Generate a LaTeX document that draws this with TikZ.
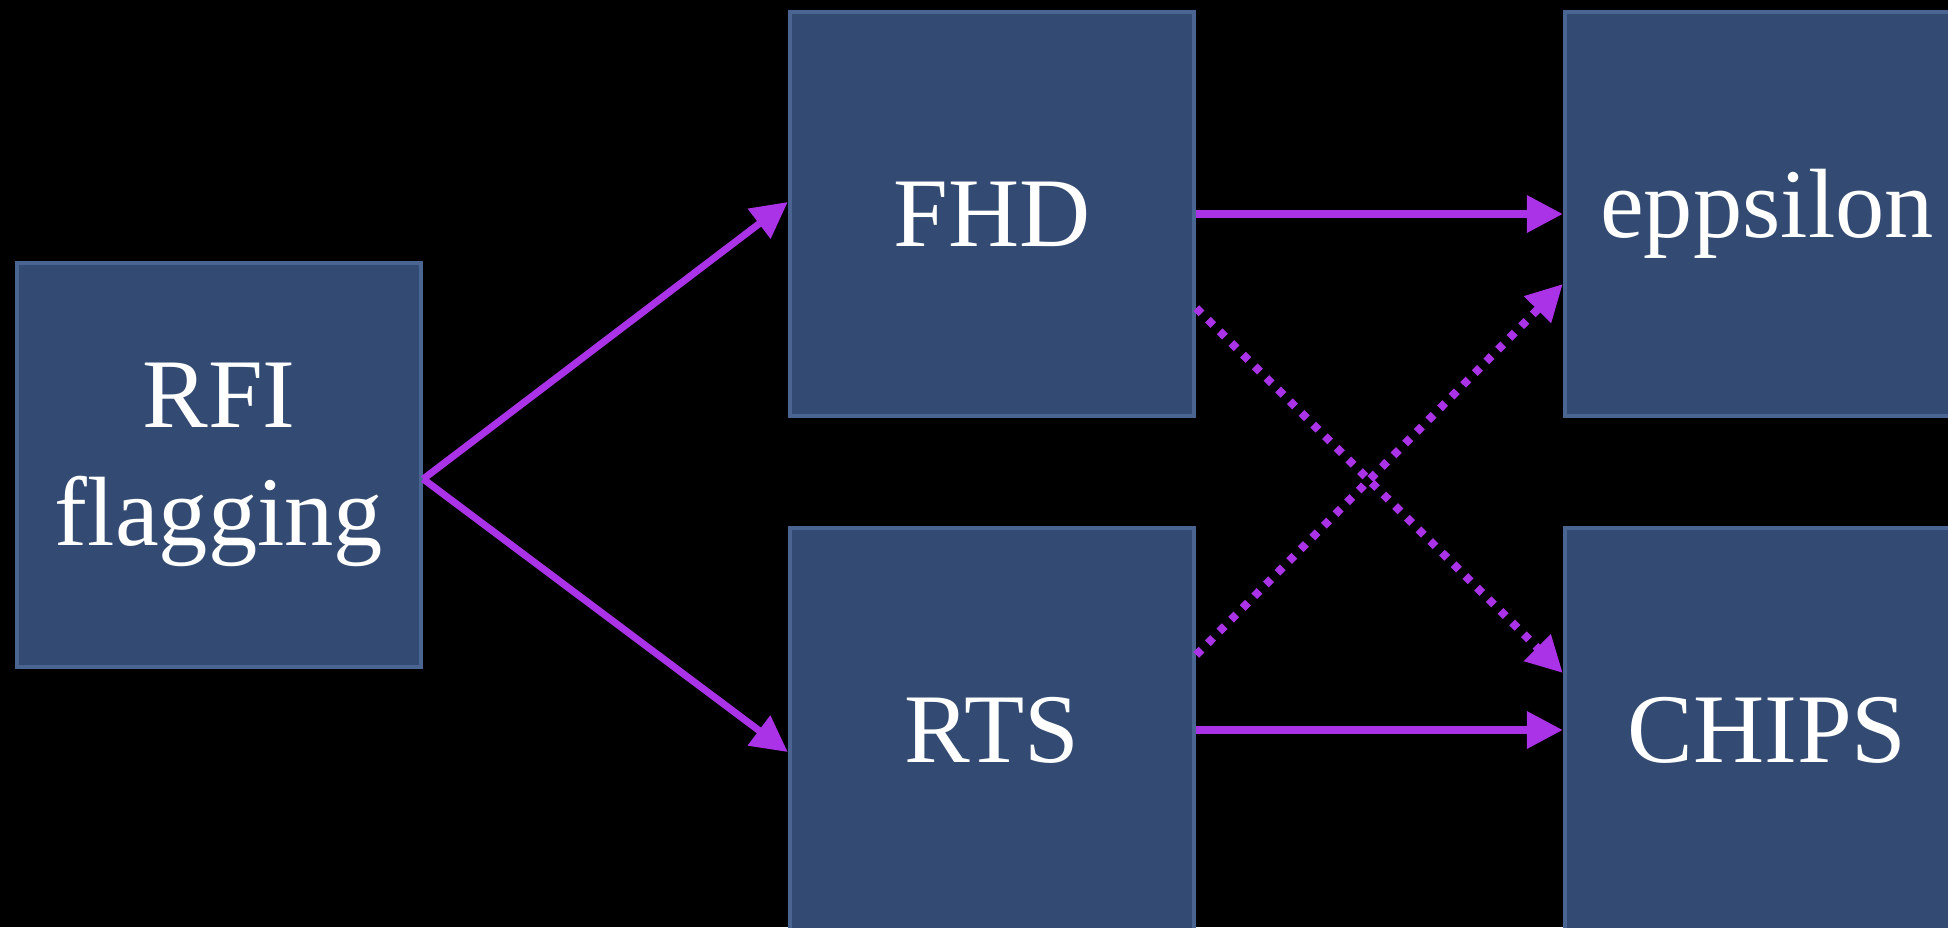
\documentclass[tikz,border=0pt]{standalone}
\usepackage{fontspec}
\setmainfont{Liberation Serif}
\usetikzlibrary{arrows.meta}

\definecolor{boxblue}{HTML}{334B72}
\definecolor{boxedge}{HTML}{4B6592}
\definecolor{flow}{HTML}{AA33E8}

\begin{document}
\begin{tikzpicture}[x=0.01cm,y=-0.01cm,
    stage/.style={rectangle,fill=boxblue,draw=boxedge,line width=1.2pt,
        minimum width=4.04cm,minimum height=4.04cm,inner sep=0pt,
        text=white,align=center,font=\fontsize{28}{33.6}\selectfont},
    maybe/.style={line width=2.3pt,dash pattern=on 0.075cm off 0.09cm},
    ->,>={Triangle[length=0.36cm,width=0.36cm]},line width=2pt,flow]
\fill[black] (0,0) rectangle (1948,927);
\useasboundingbox (0,0) rectangle (1948,927);

\node[stage] (rfi) at (219,465) {RFI\\flagging};
\node[stage] (fhd) at (992,214) {FHD};
\node[stage] (rts) at (992,730) {RTS};
\node[stage] (eps) at (1767,214) {eppsilon};
\node[stage] (chips) at (1767,730) {CHIPS};

% flagged data go to both calibrators
\path ([yshift=-0.14cm]rfi.east) edge ([yshift=0.12cm]fhd.west);
\path ([yshift=-0.14cm]rfi.east) edge ([yshift=-0.22cm]rts.west);

% calibrator -> power spectrum
\path (fhd) edge (eps);
\path (rts) edge (chips);
\path[maybe] ([yshift=-0.94cm]fhd.east) edge ([yshift=0.57cm]chips.west);
\path[maybe] ([yshift=0.75cm]rts.east) edge ([yshift=-0.70cm]eps.west);
\end{tikzpicture}
\end{document}
